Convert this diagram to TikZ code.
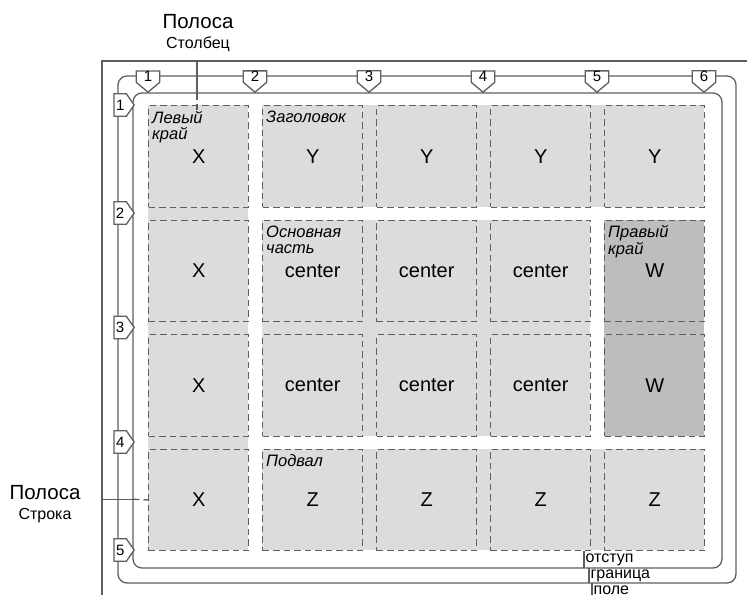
\documentclass[tikz,border=0pt]{standalone}
\usepackage{fontspec}
\setmainfont{Liberation Sans}
\usetikzlibrary{positioning,calc,shapes.symbols}
\definecolor{areagray}{HTML}{DCDCDC}
\definecolor{sidegray}{HTML}{BDBDBD}
\definecolor{linegray}{HTML}{5E5E5E}
\tikzset{
  frm/.style={line width=1.3pt,linegray},                       % page frame, leaders
  rbox/.style={line width=1.3pt,linegray,rounded corners=9pt},  % border / padding box
  dsh/.style={dash pattern=on 6.5pt off 4pt},
  area/.style={fill=areagray},
  sarea/.style={fill=sidegray},                                  % right edge area
  cell/.style={draw=linegray,dsh,line width=1.4pt,
    anchor=north west,minimum width=100pt,minimum height=101.5pt,inner sep=0pt},
  lbl/.style={font=\fontsize{20}{22}\selectfont},
  tag/.style={font=\fontsize{16.5}{16.5}\selectfont\itshape,align=left,
    anchor=north west,inner sep=0pt},
  colmk/.style={signal,signal to=south,signal pointer angle=100,draw=linegray,
    fill=white,line width=1.3pt,font=\fontsize{15}{15}\selectfont,
    inner xsep=7.5pt,inner ysep=0.5pt,anchor=south},            % column line
  rowmk/.style={signal,signal to=east,signal pointer angle=110,draw=linegray,
    fill=white,line width=1.3pt,font=\fontsize{15}{15}\selectfont,
    inner xsep=2pt,inner ysep=6pt,anchor=east},                  % row line
  note/.style={font=\fontsize{16}{17}\selectfont,inner sep=1pt,text=black},
  big/.style={font=\fontsize{20.5}{22}\selectfont,inner sep=1pt},
}
\begin{document}
\begin{tikzpicture}[x=1pt,y=-1pt]
  \useasboundingbox (0,0) rectangle (747,595);
  % frame, border, padding
  \draw[frm] (747,61) -| (102,595);
  \draw[rbox] (118,76) rectangle (736,583);
  \draw[rbox] (133,93) rectangle (722,568);
  % areas
  \fill[area] (148,105) rectangle (248,550);
  \fill[area] (262,105) rectangle (704,206.5);
  \fill[area] (262,219.5) rectangle (590,435.5);
  \fill[sarea] (604,219.5) rectangle (704,435.5);
  \fill[area] (262,448.5) rectangle (704,550);
  % cells
  \foreach \i in {1,...,5}{
    \foreach \j in {1,...,4}{
      \node[cell] (c\i\j) at ({148+114*(\i-1)},{105+114.5*(\j-1)}) {};
    }
  }
  \foreach \c/\t in {c11/X,c12/X,c13/X,c14/X,c21/Y,c31/Y,c41/Y,c51/Y,
    c22/center,c32/center,c42/center,c23/center,c33/center,c43/center,
    c52/W,c53/W,c24/Z,c34/Z,c44/Z,c54/Z}
    \node[lbl] (t-\c) at (\c) {\t};
  \node[tag] (lft) at ($(c11.north west)+(4,6)$) {Левый\\край};
  \node[tag] (hdr) at ($(c21.north west)+(4,6)$) {Заголовок};
  \node[tag] (mn) at ($(c22.north west)+(4,6)$) {Основная\\часть};
  \node[tag] (rgt) at ($(c52.north west)+(4,6)$) {Правый\\край};
  \node[tag] (ftr) at ($(c24.north west)+(4,6)$) {Подвал};
  % grid lines
  \foreach \n/\x in {1/148,2/255,3/369,4/483,5/597,6/704}
    \node[colmk] (col\n) at (\x,93) {\n};
  \foreach \n/\y in {1/105,2/213,3/327.5,4/442,5/550}
    \node[rowmk] (row\n) at (135,\y) {\n};
  % column band
  \node[big] (ctitle) at (198,22) {Полоса};
  \node[note] (csub) at (198,44) {Столбец};
  \coordinate (ctop) at (197,61);
  \coordinate (cend) at (197,113);
  \draw[frm] (ctop) -- (ctop |- col1.south);
  \draw[frm,dsh] (ctop |- col1.south) -- (cend);
  % row band
  \node[big] (rtitle) at (45,493) {Полоса};
  \node[note] (rsub) at (45,516) {Строка};
  \coordinate (rbeg) at (102,499.25);
  \draw[frm] (rbeg) -- (133,499.25);
  \draw[frm,dsh] (133,499.25) -- (c14.west);
  % padding, border, margin
  \coordinate (p1) at (584,551);
  \coordinate (p2) at (589,568);
  \coordinate (p3) at (592,583);
  \draw[frm] (p1) -- ++(0,17) node[note,anchor=west,midway] (pad) {отступ};
  \draw[frm] (p2) -- ++(0,15) node[note,anchor=west,midway] (brd) {граница};
  \draw[frm] (p3) -- (592,595) node[note,anchor=west,pos=0.6] (mrg) {поле};
\end{tikzpicture}
\end{document}
